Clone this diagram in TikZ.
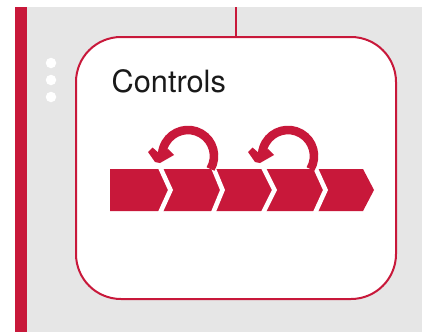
\documentclass[tikz,border=0pt]{standalone}
\usepackage{fontspec}
\setmainfont{TeX Gyre Heros}
\definecolor{brand}{HTML}{C8183A}
\definecolor{panel}{HTML}{E6E6E6}
\tikzset{
  redfill/.style={fill=brand,draw=none},
  gapline/.style={draw=white,line width=4.6pt,miter limit=10},
  looparc/.style={draw=brand,line width=8.6pt},
  dotmark/.style={circle,fill=white,draw=none,inner sep=0pt,minimum size=10.5pt},
  cardbox/.style={draw=brand,line width=2pt,fill=white,rounded corners=45pt,minimum width=320pt,minimum height=262pt,inner sep=0pt}
}
\begin{document}
\begin{tikzpicture}[x=1pt,y=-1pt]
\useasboundingbox (0,0) rectangle (422,332);
\fill[panel] (15,7) rectangle (422,332);
\fill[brand] (15,7) rectangle (27,332);
\node[dotmark] (d1) at (51,63) {};
\node[dotmark] (d2) at (51,80) {};
\node[dotmark] (d3) at (51,97) {};
\node[cardbox] (card) at (236,168) {};
\coordinate (topend) at (236,7);
\draw[brand,line width=2pt] (topend) -- (card.north);
\node[anchor=base west,inner sep=0pt,font=\fontsize{30.7}{32}\selectfont,text=black!90] (title) at (111.5,92) {Controls};
\fill[redfill] (110,169) -- (363,169) -- (374,190) -- (363,211) -- (110,211) -- cycle;
\foreach \gx/\tx in {160/170.5,213/222.5,263/274.5,315/325.5}{
  \draw[gapline] (\gx,167) -- (\tx,190) -- (\gx,213);
}
\foreach \ox in {0,100}{
  \begin{scope}[xshift=\ox pt]
    \draw[looparc] (188,156) ++(30:26) arc[start angle=30,end angle=-185,radius=26];
    \fill[redfill] (148,152) -- (152.5,147.5) -- (160,154) -- (168,149) -- (174,155) -- (160,163) -- (155,162) -- cycle;
  \end{scope}
}
\end{tikzpicture}
\end{document}
